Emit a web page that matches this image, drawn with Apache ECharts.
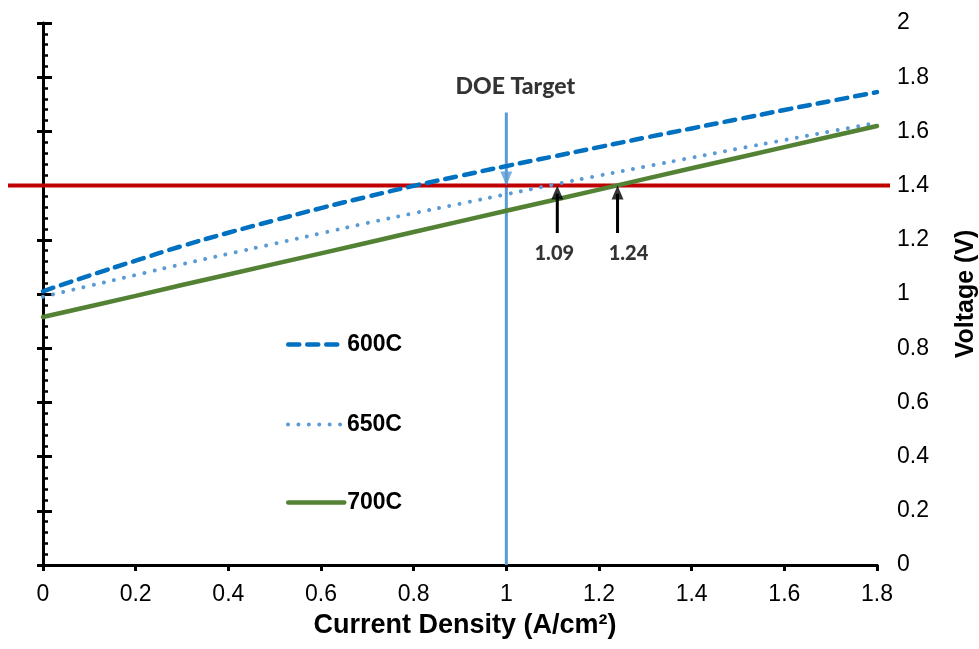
<!DOCTYPE html>
<html>
<head>
<meta charset="utf-8">
<script src="https://cdn.jsdelivr.net/npm/echarts@6/dist/echarts.min.js"></script>
<style>html,body{margin:0;padding:0;background:#fff;overflow:hidden}#c{width:979px;height:649px}</style>
</head>
<body>
<div id="c"></div>
<script>
// Current density (A/cm2)
var currentDensity = [0,0.1,0.2,0.3,0.4,0.5,0.6,0.7,0.8,0.9,1.0,1.1,1.2,1.3,1.4,1.5,1.6,1.7,1.8];
// Voltage (V)
var v600 = [1.01,1.068,1.123,1.177,1.226,1.272,1.317,1.359,1.399,1.436,1.472,1.507,1.542,1.577,1.611,1.645,1.679,1.712,1.745];
var v650 = [0.99,1.03,1.07,1.11,1.148,1.186,1.224,1.262,1.298,1.333,1.368,1.403,1.437,1.47,1.503,1.536,1.568,1.60,1.632];
var v700 = [0.915,0.954,0.993,1.033,1.072,1.111,1.150,1.189,1.229,1.268,1.307,1.346,1.385,1.425,1.464,1.503,1.542,1.581,1.620];
var xTicks = [0,0.2,0.4,0.6,0.8,1,1.2,1.4,1.6,1.8];
var yTicks = [0,0.2,0.4,0.6,0.8,1,1.2,1.4,1.6,1.8,2];
// Target voltage line (extends past the plot edges)
var targetX = [-0.076, 1.828];
var targetV = [1.40, 1.40];
// DOE target current density marker
var doeX = [1.0, 1.0];
var doeV = [1.67, 0];
var doeLabel = 'DOE Target';
// Crossing arrows and labels
var crossX = [1.11, 1.24];
var crossLabels = ['1.09', '1.24'];
var arrowBottomV = 1.225;
var labelV = 1.15;

function pairs(xs, ys){ return xs.map(function(x,i){ return [x, ys[i]]; }); }

var chart = echarts.init(document.getElementById('c'), null, {renderer:'canvas', width:979, height:649});
var F = "'Liberation Sans', Arial, sans-serif";
var FB = "Lato, 'Open Sans', sans-serif";

var series = [
  {name:'600C', type:'line', yAxisIndex:0, data:pairs(currentDensity, v600), symbol:'none', smooth:true, z:5,
   lineStyle:{color:'#0070C0', width:4.5, type:[11,8], cap:'round'}, itemStyle:{color:'#0070C0'}},
  {name:'650C', type:'line', yAxisIndex:0, data:pairs(currentDensity, v650), symbol:'none', smooth:true, z:5,
   lineStyle:{color:'#5B9BD5', width:4, type:[0.01,10.4], cap:'round'}, itemStyle:{color:'#5B9BD5'}},
  {name:'700C', type:'line', yAxisIndex:0, data:pairs(currentDensity, v700), symbol:'none', z:5,
   lineStyle:{color:'#548235', width:4.5, cap:'round'}, itemStyle:{color:'#548235'}},
  {name:'doe', type:'line', yAxisIndex:0, data:pairs(doeX, doeV), symbol:'none', z:3, clip:false,
   lineStyle:{color:'#5B9BD5', width:3}},
  {name:'target', type:'line', xAxisIndex:2, yAxisIndex:3, data:pairs(targetX, targetV), symbol:'none', z:4, clip:false,
   lineStyle:{color:'#C00000', width:4}},
  {name:'doeArrow', type:'scatter', yAxisIndex:0, data:[[doeX[0], targetV[0]]], symbol:'triangle', symbolRotate:180,
   symbolSize:[12,14], symbolOffset:[0,-7], itemStyle:{color:'#5B9BD5'}, z:6, clip:false},
  {name:'doeText', type:'scatter', yAxisIndex:0, data:[[doeX[0], 1.765]], symbolSize:0, z:6,
   label:{show:true, position:'inside', offset:[9,0], formatter:doeLabel, color:'#000', textBorderWidth:0,
     fontFamily:FB, fontWeight:900, fontSize:23}}
];
crossX.forEach(function(x, i){
  series.push({name:'arrow'+i, type:'line', yAxisIndex:0, data:[[x, arrowBottomV],[x, targetV[0]-0.03]], symbol:'none', z:7,
    lineStyle:{color:'#000', width:3}});
  series.push({name:'arrowHead'+i, type:'scatter', yAxisIndex:0, data:[[x, targetV[0]]], symbol:'triangle',
    symbolSize:[12,14], symbolOffset:[0,7], itemStyle:{color:'#000'}, z:8});
  series.push({name:'arrowLabel'+i, type:'scatter', yAxisIndex:0, data:[[x, labelV]], symbolSize:0, z:8,
    label:{show:true, position:'inside', offset:[i===0?-3:11,0], formatter:crossLabels[i], color:'#000', textBorderWidth:0,
      fontFamily:FB, fontWeight:900, fontSize:20}});
});

function legendFor(name, top){
  return {data:[name], left:281, top:top, itemWidth:56, itemHeight:16, itemGap:0,
    itemStyle:{opacity:0, borderWidth:0},
    lineStyle:{width:'inherit'},
    textStyle:{fontFamily:F, fontWeight:'bold', fontSize:23, color:'#000', padding:[0,0,0,-2]}, selectedMode:false};
}

chart.setOption({
  animation:false,
  backgroundColor:'#fff',
  grid:[
    {left:43, right:102, top:23, bottom:84, containLabel:false, outerBoundsMode:'none'},
    {left:8, right:89, top:23, bottom:84, containLabel:false, outerBoundsMode:'none', show:false}
  ],
  legend:[legendFor('600C', 328), legendFor('650C', 408), legendFor('700C', 486)],
  xAxis:[
    {type:'value', gridIndex:0, min:0, max:1.8, interval:0.2, position:'bottom',
     axisLine:{show:true, lineStyle:{color:'#000', width:3}},
     axisTick:{show:true, inside:false, length:6, lineStyle:{color:'#000', width:3}},
     axisLabel:{show:true, margin:18, color:'#000', fontFamily:F, fontSize:23,
       formatter:function(v){ var t = xTicks.filter(function(k){return Math.abs(k-v)<1e-9;}); return t.length? String(t[0]) : ''; }},
     splitLine:{show:false},
     name:'Current Density (A/cm²)', nameLocation:'middle', nameGap:47,
     nameTextStyle:{fontFamily:F, fontWeight:'bold', fontSize:27, color:'#000', padding:[0,0,0,10]}},
    {type:'value', gridIndex:0, min:0, max:1.8, interval:0.2, position:'top',
     axisLine:{show:true, lineStyle:{color:'#000', width:3}},
     axisTick:{show:false}, axisLabel:{show:false}, splitLine:{show:false}},
    {type:'value', gridIndex:1, min:targetX[0], max:targetX[1], show:false, splitLine:{show:false}}
  ],
  yAxis:[
    {type:'value', gridIndex:0, min:0, max:2, interval:0.2, position:'right',
     axisLine:{show:true, lineStyle:{color:'#000', width:2.5}},
     axisTick:{show:false},
     axisLabel:{show:true, margin:20, color:'#000', fontFamily:F, fontSize:23,
       formatter:function(v){ var t = yTicks.filter(function(k){return Math.abs(k-v)<1e-9;}); return t.length? String(t[0]) : ''; }},
     splitLine:{show:false},
     name:'Voltage (V)', nameLocation:'middle', nameGap:77, nameRotate:90,
     nameTextStyle:{fontFamily:F, fontWeight:'bold', fontSize:25, color:'#000'}},
    {type:'value', gridIndex:0, min:0, max:2, interval:0.2, position:'left',
     axisLine:{show:true, lineStyle:{color:'#000', width:3}},
     axisTick:{show:true, inside:true, length:9, lineStyle:{color:'#000', width:3}},
     minorTick:{show:true, splitNumber:5, length:5, lineStyle:{color:'#000', width:2.5}},
     axisLabel:{show:false}, splitLine:{show:false}, minorSplitLine:{show:false}},
    {type:'value', gridIndex:0, min:0, max:2, interval:0.2, position:'left',
     axisLine:{show:false},
     axisTick:{show:true, inside:false, length:6, lineStyle:{color:'#000', width:3}},
     axisLabel:{show:false}, splitLine:{show:false}},
    {type:'value', gridIndex:1, min:0, max:2, show:false, splitLine:{show:false}}
  ],
  series: series
});
</script>
</body>
</html>
